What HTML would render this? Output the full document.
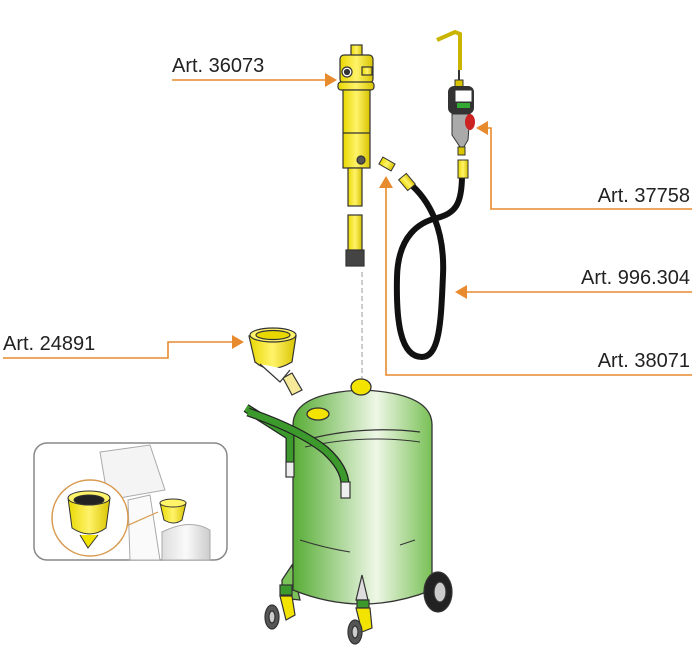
<!DOCTYPE html>
<html><head><meta charset="utf-8"><style>
html,body{margin:0;padding:0;background:#fff;}
svg{display:block;}
text{font-family:"Liberation Sans",Arial,sans-serif;font-size:20px;fill:#222;}
</style></head><body>
<svg width="696" height="657" viewBox="0 0 696 657" xmlns="http://www.w3.org/2000/svg">
<defs>
<linearGradient id="tank" x1="0" x2="1"><stop offset="0" stop-color="#58ad36"/><stop offset="0.6" stop-color="#eef7e6"/><stop offset="1" stop-color="#78c055"/></linearGradient>
<linearGradient id="yel" x1="0" x2="1"><stop offset="0" stop-color="#e8d800"/><stop offset="0.5" stop-color="#fff36a"/><stop offset="1" stop-color="#d9c400"/></linearGradient>
<linearGradient id="gray" x1="0" x2="1"><stop offset="0" stop-color="#ddd"/><stop offset="0.5" stop-color="#fafafa"/><stop offset="1" stop-color="#ccc"/></linearGradient>
</defs>

<g stroke="#e88a2e" stroke-width="1.6" fill="none">
<path d="M172 80 H326"/>
<path d="M692 209 H491 V128 H484"/>
<path d="M692 292 H464"/>
<path d="M692 375 H386 V186"/>
<path d="M3 358 H168 V342 H235"/>
</g>
<g fill="#e88a2e">
<polygon points="337,80 325,73 325,87"/>
<polygon points="476,128 488,121 488,135"/>
<polygon points="455,292 467,285 467,299"/>
<polygon points="386,176 379,188 393,188"/>
<polygon points="244,342 232,335 232,349"/>
</g>
<text x="172" y="72">Art. 36073</text>
<text x="690" y="202" text-anchor="end">Art. 37758</text>
<text x="690" y="284" text-anchor="end">Art. 996.304</text>
<text x="690" y="367" text-anchor="end">Art. 38071</text>
<text x="3" y="350">Art. 24891</text>

<path d="M362 272 V385" stroke="#aaa" stroke-width="1.2" stroke-dasharray="5,3"/>

<g stroke="#333" stroke-width="1.2">
<rect x="351" y="45" width="11" height="11" fill="url(#yel)"/>
<rect x="340" y="55" width="33" height="28" rx="4" fill="url(#yel)"/>
<circle cx="347" cy="72" r="5" fill="#fff"/><circle cx="347" cy="72" r="2.5" fill="#333"/>
<rect x="362" y="67" width="10" height="8" fill="url(#yel)"/>
<rect x="338" y="82" width="36" height="8" rx="3" fill="url(#yel)"/>
<rect x="343" y="90" width="27" height="78" fill="url(#yel)"/>
<line x1="343" y1="133" x2="370" y2="133"/>
<circle cx="361" cy="160" r="4" fill="#555"/>
<rect x="348" y="168" width="14" height="38" fill="url(#yel)"/>
<rect x="348" y="215" width="14" height="36" fill="url(#yel)"/>
<rect x="346" y="250" width="18" height="16" fill="#444"/>
</g>
<g stroke="#333" stroke-width="1"><rect x="380" y="160" width="14" height="8" fill="url(#yel)" transform="rotate(30 387 164)"/></g>

<path d="M408 182 C430 200 445 230 443 275 C441 320 440 357 422 357 C400 357 396 320 397 277 C398 235 420 222 437 218 C455 213 462 205 462 175" stroke="#111" stroke-width="6" fill="none"/>
<rect x="402" y="175" width="10" height="14" fill="url(#yel)" stroke="#333" transform="rotate(-40 407 182)"/>
<rect x="458" y="160" width="10" height="18" fill="url(#yel)" stroke="#333"/>

<path d="M437 40 L455 32 L460 34 L460 70" stroke="#c9b400" stroke-width="4" fill="none"/>
<line x1="459" y1="70" x2="459" y2="88" stroke="#333" stroke-width="2"/>
<rect x="455" y="80" width="8" height="8" fill="#d9c400" stroke="#333"/>
<rect x="448" y="86" width="26" height="28" rx="6" fill="#333"/>
<rect x="455" y="90" width="17" height="12" fill="#fff" stroke="#333"/>
<rect x="457" y="103" width="13" height="5" fill="#3a3"/>
<path d="M452 114 L470 114 L468 140 L462 150 L452 135 Z" fill="#aaa" stroke="#333"/>
<ellipse cx="470" cy="122" rx="5" ry="8" fill="#c22"/>
<rect x="458" y="147" width="7" height="8" fill="#d9c400" stroke="#333"/>

<g stroke="#333" stroke-width="1.2">
<path d="M283 378 L292 395 L302 390 L292 373 Z" fill="#f6ea9a"/>
<path d="M249 336 L255 362 Q270 375 292 362 L296 336 Z" fill="url(#yel)"/>
<ellipse cx="273" cy="335" rx="23" ry="7" fill="#fff36a"/>
<ellipse cx="273" cy="335" rx="17" ry="4.5" fill="#e8d800"/>
<path d="M260 364 L280 382 L290 370" fill="#fff"/>
</g>

<g stroke="#333" stroke-width="1.3">
<path d="M282 580 L292 565 L300 600 L282 598 Z" fill="#7cc25a"/>
<path d="M293 425 Q293 393 362 390 Q432 393 432 425 L432 590 Q362 618 293 590 Z" fill="url(#tank)"/>
<path d="M305 440 Q362 425 420 432" fill="none"/>
<path d="M305 447 Q362 434 420 442" fill="none" stroke-width="1"/>
<path d="M300 540 Q325 548 350 552" fill="none" stroke-width="1"/>
<path d="M400 545 L415 540" fill="none" stroke-width="1"/>
<ellipse cx="361" cy="387" rx="10" ry="8" fill="#f2e400"/>
<ellipse cx="318" cy="414" rx="11" ry="6" fill="#f2e400"/>
</g>
<!-- handle -->
<path d="M246 408 L290 436 L290 465" stroke="#222" stroke-width="9" fill="none" stroke-linejoin="round"/>
<path d="M246 408 L290 436 L290 465" stroke="#3c9a2c" stroke-width="6.5" fill="none" stroke-linejoin="round"/>
<path d="M248 412 Q300 430 325 450 Q345 468 345 485" stroke="#222" stroke-width="9" fill="none"/>
<path d="M248 412 Q300 430 325 450 Q345 468 345 485" stroke="#3c9a2c" stroke-width="6.5" fill="none"/>
<g stroke="#333" stroke-width="1.2">
<rect x="286" y="462" width="8" height="15" fill="#eee"/>
<rect x="341" y="482" width="9" height="16" fill="#eee"/>
<path d="M356 600 L362 575 L368 600 Z" fill="#ddd"/>
<ellipse cx="438" cy="592" rx="14" ry="20" fill="#222"/>
<ellipse cx="440" cy="592" rx="6" ry="10" fill="#ccc"/>
<rect x="280" y="585" width="12" height="10" fill="#3c9a2c"/>
<path d="M280 596 L292 596 L295 615 L286 620 Z" fill="#f2e400"/>
<ellipse cx="272" cy="617" rx="7" ry="12" fill="#555"/>
<ellipse cx="272" cy="617" rx="3" ry="6" fill="#ccc"/>
<rect x="357" y="600" width="12" height="8" fill="#3c9a2c"/>
<path d="M356 608 L370 608 L372 628 L362 632 Z" fill="#f2e400"/>
<ellipse cx="355" cy="632" rx="7" ry="12" fill="#555"/>
<ellipse cx="355" cy="632" rx="3" ry="6" fill="#ccc"/>
</g>

<rect x="34" y="443" width="193" height="117" rx="13" fill="#fff" stroke="#888" stroke-width="1.5"/>
<g stroke="#aaa" stroke-width="1" fill="#f4f4f4">
<path d="M100 452 L150 445 L165 490 L108 500 Z"/>
<path d="M128 500 L150 495 L160 560 L130 560 Z" fill="#fafafa"/>
<path d="M162 532 Q190 518 210 530 L210 560 L162 560 Z" fill="url(#gray)"/>
</g>
<g stroke="#333" stroke-width="1">
<path d="M160 503 L164 520 Q174 526 182 520 L186 503 Z" fill="url(#yel)"/>
<ellipse cx="173" cy="503" rx="13" ry="4" fill="#fff36a"/>
</g>
<line x1="124" y1="527" x2="158" y2="512" stroke="#d89a50" stroke-width="1.2"/>
<circle cx="90" cy="518" r="38" fill="#fff" stroke="#d89a50" stroke-width="1.5"/>
<g stroke="#333" stroke-width="1">
<path d="M68 498 L72 528 Q90 540 106 528 L110 498 Z" fill="url(#yel)"/>
<ellipse cx="89" cy="498" rx="21" ry="7" fill="#fff36a"/>
<ellipse cx="89" cy="500" rx="15" ry="5" fill="#222"/>
<path d="M80 535 L88 548 L98 535" fill="#f2e400"/>
</g>
</svg>
</body></html>
